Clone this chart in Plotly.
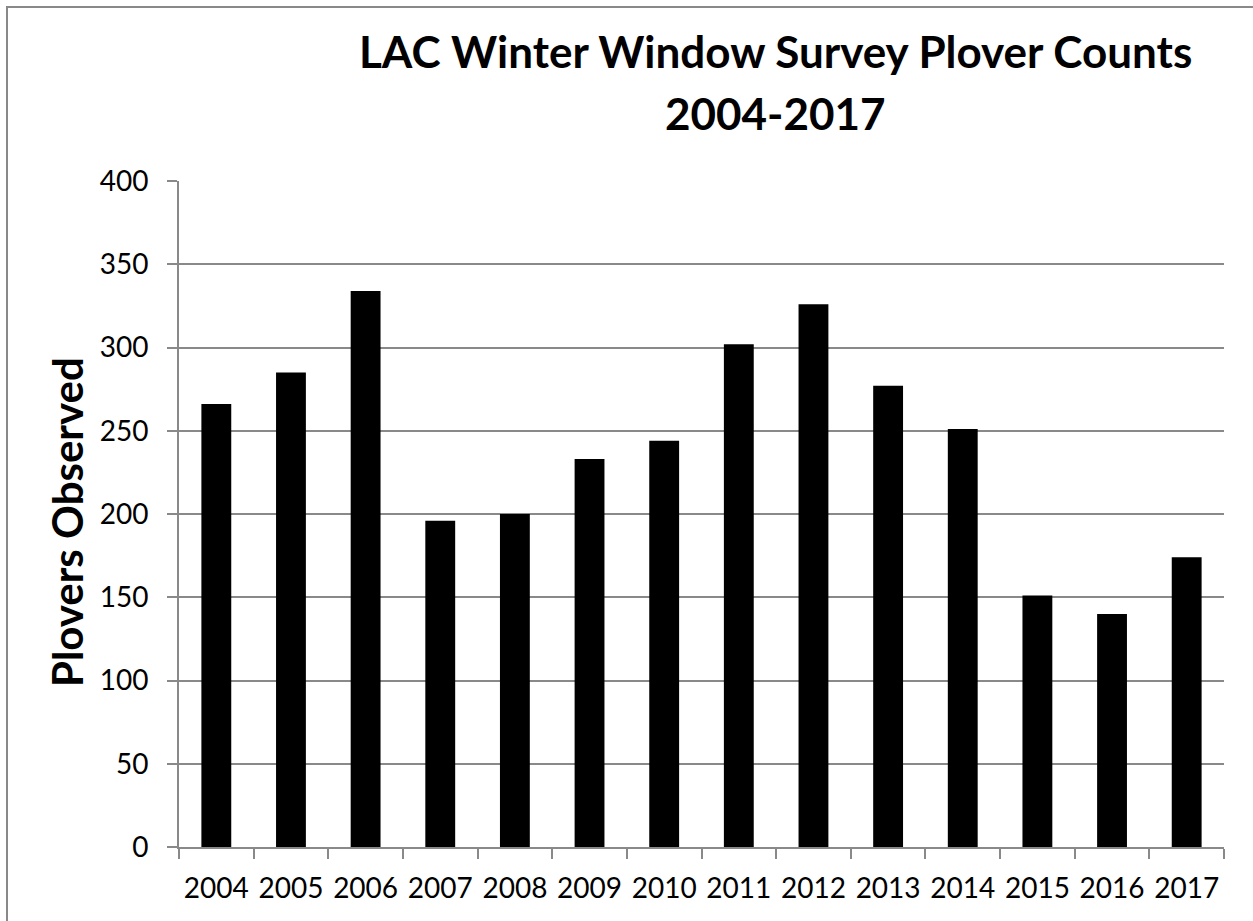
import plotly.graph_objects as go

# Winter window survey results, LAC
years = ["2004", "2005", "2006", "2007", "2008", "2009", "2010",
         "2011", "2012", "2013", "2014", "2015", "2016", "2017"]
plovers = [266, 285, 334, 196, 200, 233, 244, 302, 326, 277, 251, 151, 140, 174]

y_ticks = [0, 50, 100, 150, 200, 250, 300, 350, 400]

title_lines = ["LAC Winter Window Survey Plover Counts", "2004-2017"]
y_title = "Plovers Observed"

W, H = 1253, 921
L, R, T, B = 179, 29, 181, 74
plot_w = W - L - R
plot_h = H - T - B

GRID = "#898989"
FONT = "Lato"


def px_x(px):
    return (px - L) / plot_w


def px_y(py):
    return (H - B - py) / plot_h


fig = go.Figure(
    go.Bar(
        x=years,
        y=plovers,
        marker=dict(color="black", line=dict(width=0)),
        width=0.4,
    )
)

title_font = dict(family=FONT, size=44, color="black", weight="bold")

fig.update_layout(
    width=W,
    height=H,
    margin=dict(l=L, r=R, t=T, b=B),
    paper_bgcolor="white",
    plot_bgcolor="white",
    showlegend=False,
    font=dict(family=FONT, color="black"),
    annotations=[
        dict(
            text=title_lines[0],
            xref="paper", yref="paper",
            x=px_x(775), y=px_y(51),
            xanchor="center", yanchor="middle",
            showarrow=False,
            font=title_font,
        ),
        dict(
            text=title_lines[1],
            xref="paper", yref="paper",
            x=px_x(775), y=px_y(113),
            xanchor="center", yanchor="middle",
            showarrow=False,
            font=title_font,
        ),
        dict(
            text=y_title,
            xref="paper", yref="paper",
            x=px_x(67), y=px_y(522),
            xanchor="center", yanchor="middle",
            textangle=-90,
            showarrow=False,
            font=dict(family=FONT, size=42, color="black", weight="bold"),
        ),
    ],
    shapes=[
        dict(
            type="rect",
            xref="paper", yref="paper",
            x0=px_x(7), x1=px_x(1265),
            y0=px_y(935), y1=px_y(7),
            line=dict(color=GRID, width=2),
            fillcolor="rgba(0,0,0,0)",
            layer="below",
        )
    ],
)

fig.update_xaxes(
    type="category",
    automargin=False,
    showgrid=False,
    showline=True,
    linecolor=GRID,
    linewidth=2,
    ticks="outside",
    tickson="boundaries",
    ticklen=10,
    tickwidth=2,
    tickcolor=GRID,
    tickangle=0,
    tickfont=dict(family=FONT, size=28, color="black"),
    ticklabelstandoff=15,
)

fig.update_yaxes(
    automargin=False,
    range=[0, 400],
    tickvals=y_ticks,
    ticktext=[str(v) for v in y_ticks],
    showgrid=True,
    gridcolor=GRID,
    gridwidth=2,
    zeroline=False,
    showline=True,
    linecolor=GRID,
    linewidth=2,
    ticks="outside",
    ticklen=10,
    tickwidth=2,
    tickcolor=GRID,
    tickfont=dict(family=FONT, size=28, color="black"),
    ticklabelstandoff=13,
)

fig.write_html("out.html")
